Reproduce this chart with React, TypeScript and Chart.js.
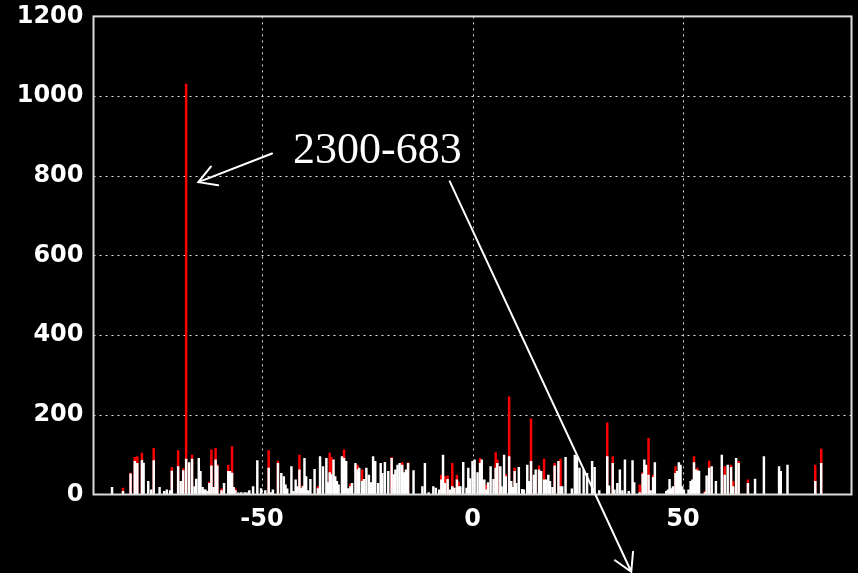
import React, { useEffect, useRef } from "react";
import { Chart, registerables } from "chart.js";

Chart.register(...registerables);

// Bin positions of the spectrum
const binX = [
  -85.6, -83.0, -81.2, -80.2, -79.6, -78.5, -78.1, -77.0, -76.3, -75.7,
  -74.3, -73.2, -72.6, -71.8, -71.4, -69.9, -69.3, -68.7, -68.0, -67.3,
  -66.6, -66.0, -65.6, -65.0, -64.6, -64.1, -63.8, -63.4, -62.9, -62.5,
  -62.0, -61.5, -61.0, -60.6, -59.6, -59.0, -58.0, -57.6, -57.1, -56.7,
  -56.3, -55.6, -54.9, -54.1, -53.5, -53.0, -52.1, -51.1, -50.2, -49.2,
  -48.4, -47.8, -47.4, -46.2, -45.4, -44.8, -44.4, -44.0, -43.0, -42.5,
  -42.0, -41.6, -41.1, -40.7, -40.3, -39.9, -39.5, -39.0, -38.5, -37.5,
  -36.7, -36.2, -35.5, -34.7, -34.3, -33.9, -33.5, -33.0, -32.6, -32.2,
  -31.8, -31.0, -30.5, -30.0, -29.5, -29.0, -28.6, -27.8, -27.3, -26.9,
  -26.2, -25.8, -25.2, -24.6, -24.1, -23.6, -23.1, -22.4, -21.8, -21.4,
  -20.8, -20.0, -19.2, -18.7, -18.3, -17.8, -17.3, -16.7, -16.2, -15.8,
  -15.3, -14.0, -11.9, -11.3, -10.4, -9.3, -8.7, -7.9, -7.4, -7.0,
  -6.5, -5.9, -5.3, -4.8, -4.3, -3.7, -3.3, -2.9, -2.2, -1.4,
  -1.0, -0.6, 0.0, 0.5, 1.2, 1.8, 2.2, 2.8, 3.3, 3.7,
  4.3, 5.0, 5.5, 5.9, 6.6, 6.9, 7.5, 7.9, 8.7, 9.2,
  9.6, 10.0, 10.4, 11.0, 11.8, 12.2, 13.0, 13.4, 13.9, 14.6,
  15.0, 15.8, 16.3, 17.0, 17.4, 18.0, 18.4, 19.0, 19.5, 20.4,
  20.9, 21.3, 22.1, 23.6, 24.3, 24.8, 25.4, 26.4, 27.2, 28.4,
  29.0, 30.1, 32.0, 32.4, 33.3, 33.7, 34.4, 35.0, 35.6, 36.2,
  37.1, 38.0, 38.4, 39.7, 40.4, 40.8, 41.2, 41.8, 42.3, 42.9,
  43.3, 46.0, 46.4, 46.8, 47.2, 47.6, 48.2, 48.6, 49.0, 49.4,
  49.8, 50.2, 51.3, 51.8, 52.2, 52.6, 53.0, 53.4, 53.8, 55.2,
  55.6, 56.2, 56.8, 57.8, 59.2, 59.9, 60.6, 61.4, 61.9, 62.6,
  63.2, 65.4, 67.1, 69.2, 72.8, 73.2, 74.8, 81.4, 82.8,
];

// Counts of the main (white) series
const whiteCounts = [
  18, 8, 52, 83, 78, 86, 79, 33, 12, 85,
  18, 8, 12, 10, 59, 70, 33, 60, 89, 80,
  89, 20, 39, 91, 58, 18, 12, 12, 8, 28,
  72, 18, 87, 72, 10, 28, 58, 58, 54, 18,
  10, 4, 5, 5, 4, 10, 20, 85, 15, 10,
  66, 5, 12, 78, 53, 45, 24, 14, 70, 8,
  37, 20, 62, 15, 20, 91, 45, 10, 38, 63,
  15, 95, 70, 91, 30, 55, 50, 87, 45, 33,
  24, 95, 91, 83, 15, 20, 28, 78, 62, 66,
  33, 38, 66, 49, 30, 95, 83, 28, 78, 53,
  81, 58, 91, 50, 62, 74, 78, 74, 55, 62,
  78, 60, 20, 78, 5, 20, 16, 12, 37, 99,
  28, 38, 12, 20, 16, 37, 20, 20, 81, 16,
  66, 40, 83, 87, 55, 78, 87, 37, 12, 30,
  70, 38, 66, 78, 70, 20, 99, 45, 95, 33,
  18, 58, 28, 68, 13, 12, 74, 33, 83, 49,
  62, 62, 58, 37, 37, 49, 33, 18, 72, 83,
  20, 20, 93, 14, 99, 95, 66, 62, 53, 83,
  68, 10, 95, 22, 78, 12, 28, 62, 10, 87,
  8, 85, 30, 5, 51, 87, 74, 49, 10, 43,
  80, 8, 12, 38, 15, 20, 53, 58, 80, 74,
  20, 12, 12, 33, 37, 80, 62, 60, 59, 5,
  47, 66, 70, 33, 99, 49, 74, 68, 20, 91,
  78, 28, 39, 95, 70, 58, 74, 33, 78,
];

// Counts of the second (red) series, 0 where it has no entry
const redCounts = [
  0, 16, 54, 93, 95, 104, 0, 0, 0, 116,
  0, 0, 0, 0, 68, 110, 0, 65, 1030, 0,
  99, 0, 0, 0, 0, 0, 0, 0, 0, 31,
  112, 0, 116, 75, 14, 0, 74, 0, 120, 0,
  14, 0, 0, 0, 0, 0, 0, 0, 0, 0,
  110, 0, 0, 84, 0, 0, 0, 0, 0, 0,
  0, 0, 99, 0, 22, 0, 0, 0, 0, 0,
  20, 0, 0, 0, 0, 104, 93, 0, 0, 0,
  0, 0, 112, 0, 0, 26, 0, 0, 74, 0,
  62, 0, 0, 0, 0, 0, 0, 0, 0, 0,
  0, 0, 93, 0, 0, 0, 0, 80, 0, 0,
  80, 0, 0, 0, 0, 0, 0, 0, 49, 0,
  45, 47, 0, 78, 0, 49, 32, 0, 0, 0,
  0, 0, 0, 0, 0, 91, 0, 0, 24, 0,
  0, 0, 105, 87, 0, 0, 0, 50, 245, 0,
  0, 66, 0, 0, 0, 0, 0, 0, 190, 0,
  0, 72, 0, 89, 0, 0, 0, 0, 78, 0,
  89, 0, 0, 0, 0, 0, 0, 0, 0, 0,
  0, 0, 180, 0, 95, 0, 0, 0, 0, 0,
  0, 0, 0, 24, 55, 0, 0, 141, 0, 49,
  0, 0, 0, 0, 0, 0, 70, 0, 0, 0,
  0, 0, 0, 0, 0, 95, 0, 66, 0, 8,
  0, 84, 0, 0, 0, 70, 0, 74, 33, 0,
  83, 37, 0, 0, 0, 0, 0, 74, 114,
];

const xTicks = [-50, 0, 50];
const yTicks = [0, 200, 400, 600, 800, 1000, 1200];

// Callout: label and two arrows, in data coordinates
const calloutText = "2300-683";
const calloutAnchor = { x: -42.6, y: 832 };
const arrowToPeak = { from: { x: -47.6, y: 856 }, to: { x: -65.1, y: 784 } };
const arrowDown = { from: { x: -5.4, y: 786 }, to: { x: 37.7, y: -194 } };

const tickFont = { family: "DejaVu Sans", weight: "bold" as const, size: 24 };

function drawArrow(ctx: CanvasRenderingContext2D, x1: number, y1: number, x2: number, y2: number) {
  const head = 20;
  const spread = (30 * Math.PI) / 180;
  const ang = Math.atan2(y2 - y1, x2 - x1);
  ctx.beginPath();
  ctx.moveTo(x1, y1);
  ctx.lineTo(x2, y2);
  ctx.moveTo(x2 - head * Math.cos(ang - spread), y2 - head * Math.sin(ang - spread));
  ctx.lineTo(x2, y2);
  ctx.lineTo(x2 - head * Math.cos(ang + spread), y2 - head * Math.sin(ang + spread));
  ctx.stroke();
}

const framePlugin = {
  id: "frame",
  beforeDatasetsDraw(chart: any) {
    const { ctx, chartArea: a, scales } = chart;
    const xs = scales.x;
    const ys = scales.y;
    ctx.save();
    ctx.strokeStyle = "#e2e2e2";
    ctx.lineWidth = 1;
    ctx.setLineDash([2, 4]);
    yTicks.forEach((v) => {
      if (v === 0 || v === 1200) return;
      const y = Math.round(ys.getPixelForValue(v)) + 0.5;
      ctx.beginPath();
      ctx.moveTo(a.left, y);
      ctx.lineTo(a.right, y);
      ctx.stroke();
    });
    xTicks.forEach((v) => {
      const x = Math.round(xs.getPixelForValue(v)) + 0.5;
      ctx.beginPath();
      ctx.moveTo(x, a.top);
      ctx.lineTo(x, a.bottom);
      ctx.stroke();
    });
    ctx.restore();
  },
  afterDatasetsDraw(chart: any) {
    const { ctx, chartArea: a, scales } = chart;
    const xs = scales.x;
    const ys = scales.y;
    ctx.save();
    ctx.strokeStyle = "#dcdcdc";
    ctx.lineWidth = 2;
    ctx.strokeRect(a.left, a.top, a.right - a.left, a.bottom - a.top);

    ctx.strokeStyle = "#ffffff";
    ctx.lineWidth = 2;
    ctx.lineCap = "round";
    [arrowToPeak, arrowDown].forEach((ar) => {
      drawArrow(
        ctx,
        xs.getPixelForValue(ar.from.x),
        ys.getPixelForValue(ar.from.y),
        xs.getPixelForValue(ar.to.x),
        ys.getPixelForValue(ar.to.y)
      );
    });

    ctx.fillStyle = "#ffffff";
    ctx.font = '44px "Liberation Serif"';
    ctx.textAlign = "left";
    ctx.textBaseline = "alphabetic";
    ctx.fillText(calloutText, xs.getPixelForValue(calloutAnchor.x), ys.getPixelForValue(calloutAnchor.y));
    ctx.restore();
  },
};

export default function App() {
  const canvasRef = useRef<HTMLCanvasElement | null>(null);

  useEffect(() => {
    document.body.style.margin = "0";
    document.body.style.background = "#000";
    const canvas = canvasRef.current;
    if (!canvas) return;

    const whiteData = binX.map((x, i) => ({ x, y: whiteCounts[i] }));
    const redData = binX
      .map((x, i) => ({ x, y: redCounts[i] }))
      .filter((p) => p.y > 0);

    const chart = new Chart(canvas, {
      type: "bar",
      data: {
        datasets: [
          {
            label: "white",
            data: whiteData,
            backgroundColor: "#ffffff",
            borderWidth: 0,
            barThickness: 1.8,
            grouped: false,
          } as any,
          {
            label: "red",
            data: redData,
            backgroundColor: "#ff0000",
            borderWidth: 0,
            barThickness: 1.8,
            grouped: false,
          } as any,
        ],
      },
      options: {
        responsive: false,
        animation: false,
        devicePixelRatio: 1,
        layout: { padding: { top: 16, right: 6.5, left: 0, bottom: 0 } },
        plugins: { legend: { display: false }, tooltip: { enabled: false } },
        scales: {
          x: {
            type: "linear",
            min: -90,
            max: 90,
            offset: false,
            grid: { display: false, offset: false },
            border: { display: false },
            afterBuildTicks: (s: any) => {
              s.ticks = xTicks.map((v) => ({ value: v }));
            },
            afterFit: (s: any) => {
              s.height = 78.5;
            },
            ticks: {
              color: "#ffffff",
              font: tickFont,
              padding: 3,
              maxRotation: 0,
              autoSkip: false,
              callback: (v: any) => String(v),
            },
          },
          y: {
            type: "linear",
            min: 0,
            max: 1200,
            grid: { display: false },
            border: { display: false },
            afterBuildTicks: (s: any) => {
              s.ticks = yTicks.map((v) => ({ value: v }));
            },
            afterFit: (s: any) => {
              s.width = 93.5;
            },
            ticks: {
              color: "#ffffff",
              font: tickFont,
              padding: 2,
              autoSkip: false,
              callback: (v: any) => String(v),
            },
          },
        },
      },
      plugins: [framePlugin],
    });

    return () => chart.destroy();
  }, []);

  return (
    <div style={{ width: 858, height: 573, background: "#000" }}>
      <canvas ref={canvasRef} width={858} height={573} />
    </div>
  );
}
